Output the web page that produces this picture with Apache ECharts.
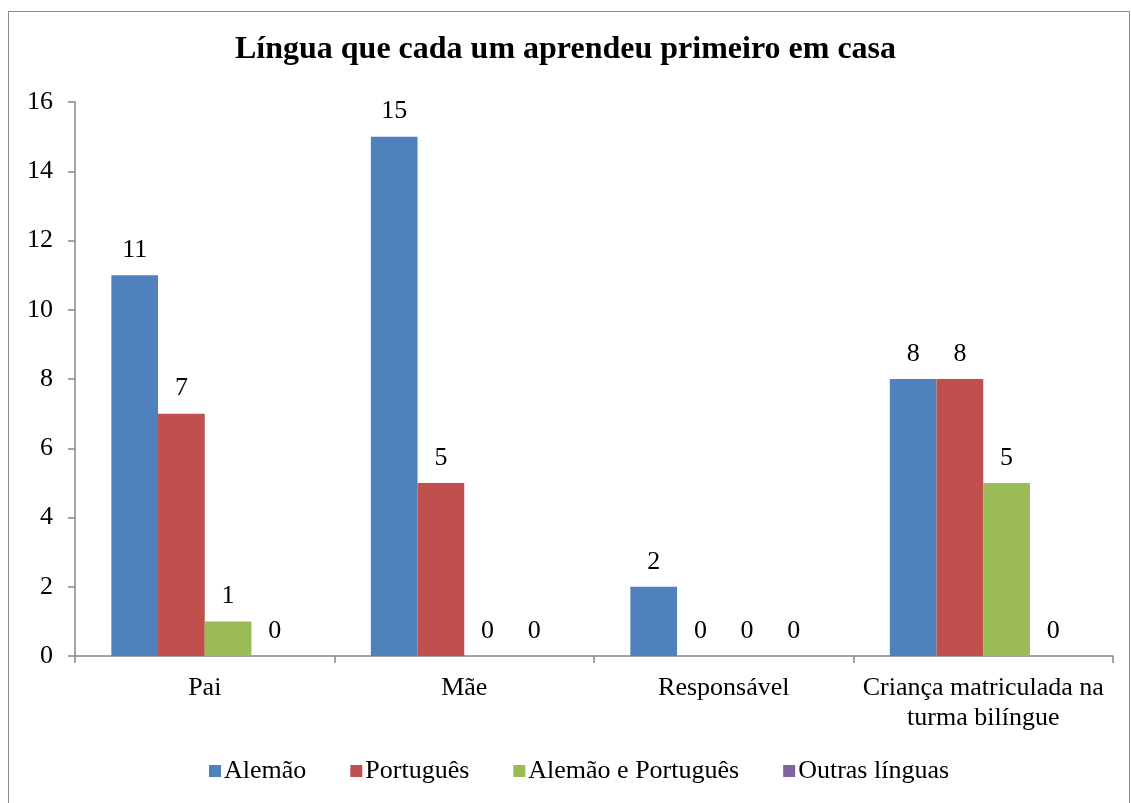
<!DOCTYPE html>
<html>
<head>
<meta charset="utf-8">
<script src="https://cdn.jsdelivr.net/npm/echarts@6/dist/echarts.min.js"></script>
<style>
  html, body { margin: 0; padding: 0; background: #fff; }
  #frame { position: absolute; left: 8px; top: 11px; width: 1120px; height: 820px; border: 1px solid #8c8c8c; }
  #chart { position: absolute; left: 0; top: 0; width: 1131px; height: 803px; }
</style>
</head>
<body>
<div id="frame"></div>
<div id="chart"></div>
<script>
const categories = ['Pai', 'Mãe', 'Responsável', 'Criança matriculada na\nturma bilíngue']
const seriesNames = ['Alemão', 'Português', 'Alemão e Português', 'Outras línguas']
const alemao = [11, 15, 2, 8]
const portugues = [7, 5, 0, 8]
const alemaoPortugues = [1, 0, 0, 5]
const outras = [0, 0, 0, 0]
const colors = ['#4f81bd', '#c0504d', '#9bbb59', '#8064a2']

const font = 'Liberation Serif'
const chart = echarts.init(document.getElementById('chart'))

const makeSeries = (name, data, color) => ({
  name,
  type: 'bar',
  data,
  barGap: 0,
  barCategoryGap: '28%',
  itemStyle: { color },
  label: {
    show: true,
    position: 'top',
    distance: 12,
    fontFamily: font,
    fontSize: 26,
    color: '#000',
  },
})

chart.setOption({
  animation: false,
  title: {
    text: 'Língua que cada um aprendeu primeiro em casa',
    left: 'center',
    top: 34,
    padding: 0,
    textStyle: { fontFamily: font, fontSize: 32, fontWeight: 'bold', color: '#000' },
  },
  legend: {
    top: 758,
    left: 209,
    padding: 0,
    itemWidth: 12,
    itemHeight: 12,
    itemGap: 44,
    icon: 'rect',
    textStyle: { fontFamily: font, fontSize: 26, color: '#000', padding: [0, 0, 0, -2] },
    data: seriesNames,
  },
  grid: { left: 75, right: 18, top: 102, bottom: 147 },
  xAxis: {
    type: 'category',
    data: categories,
    axisLine: { lineStyle: { color: '#878787', width: 1.5 } },
    axisTick: { show: true, length: 7, lineStyle: { color: '#878787', width: 1.5 } },
    axisLabel: { interval: 0, fontFamily: font, fontSize: 26, color: '#000', margin: 17, lineHeight: 30 },
  },
  yAxis: {
    type: 'value',
    min: 0,
    max: 16,
    interval: 2,
    axisLine: { show: true, lineStyle: { color: '#878787', width: 1.5 } },
    axisTick: { show: true, length: 7, lineStyle: { color: '#878787', width: 1.5 } },
    splitLine: { show: false },
    axisLabel: { fontFamily: font, fontSize: 26, color: '#000', margin: 22 },
  },
  series: [
    makeSeries(seriesNames[0], alemao, colors[0]),
    makeSeries(seriesNames[1], portugues, colors[1]),
    makeSeries(seriesNames[2], alemaoPortugues, colors[2]),
    makeSeries(seriesNames[3], outras, colors[3]),
  ],
})
</script>
</body>
</html>
